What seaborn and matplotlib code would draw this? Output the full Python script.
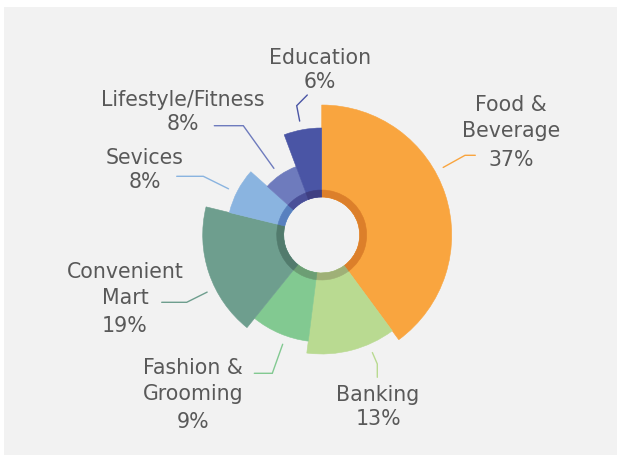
import numpy as np
import matplotlib
matplotlib.use("Agg")
import matplotlib.pyplot as plt
from matplotlib.patches import Wedge
import seaborn as sns

# slices go clockwise from 12 o'clock
categories = ["Food &\nBeverage", "Banking", "Fashion &\nGrooming", "Convenient\nMart",
              "Sevices", "Lifestyle/Fitness", "Education"]
pct_labels = [37, 13, 9, 19, 8, 8, 6]                      # printed percentages
angle_share = [39.9, 12.1, 8.8, 18.0, 7.8, 7.7, 5.7]       # angular share
slice_length = [130, 119, 107, 119, 95, 73, 107]           # outer radius of each slice
fill_colors = ["#f9a53f", "#b9da91", "#82c991", "#6e9e8e", "#8ab4e0", "#6e7bbd", "#4a55a5"]
ring_colors = ["#dc7f2a", "#9fb077", "#6c9e74", "#527b6d", "#5880bf", "#4a4f98", "#3f3f82"]

# label layout, image pixels: (text x centre, first line y), leader elbow, leader end
label_pos = [(511, 105), (378, 395), (193, 368), (125, 272), (145, 158), (183, 100), (320, 58)]
leader_elbow = [(465, 156.3), (377.3, 365), (272.3, 374.3), (186.7, 303.3),
                (203.3, 177.3), (243.3, 126.7), (296.7, 106.7)]
leader_end = [(475.3, 156.3), (377.3, 378.3), (254.3, 374.3), (161.7, 303.3),
              (176.7, 177.3), (214.3, 126.7), (307.3, 96)]

sns.set_theme(style="white")
plt.rcParams['font.family'] = ['DejaVu Sans']

W, H = 617, 456
cx, cy = 321.7, 236.0
hole_r, ring_r = 38, 45
text_col = "#595959"
fs = 14.8


def px(x, y):
    # image pixel -> data coords (centre of the donut at 0,0, y up)
    return x - cx, cy - y


fig = plt.figure(figsize=(W / 100, H / 100), dpi=100, facecolor="white")
# grey chart area, leaving the thin white margin top and left
bg = fig.add_axes([4 / W, 0, 1 - 4 / W, (H - 8) / H])
bg.set_facecolor("#f2f2f2")
bg.set_xticks([])
bg.set_yticks([])
for s in bg.spines.values():
    s.set_visible(False)

ax = fig.add_axes([0, 0, 1, 1])
ax.set_xlim(-cx, W - cx)
ax.set_ylim(-(H - cy), cy)
ax.axis("off")
ax.patch.set_alpha(0)

shares = np.array(angle_share) / np.sum(angle_share) * 360
edges = np.concatenate([[0], np.cumsum(shares)])

for i in range(len(categories)):
    a0, a1 = edges[i], edges[i + 1]
    r = slice_length[i]
    ax.add_patch(Wedge((0, 0), r, 90 - a1, 90 - a0, width=r - hole_r,
                       facecolor=fill_colors[i], edgecolor=fill_colors[i], lw=0.4, zorder=2))
    ax.add_patch(Wedge((0, 0), ring_r, 90 - a1, 90 - a0, width=ring_r - hole_r,
                       facecolor=ring_colors[i], edgecolor=ring_colors[i], lw=0.4, zorder=3))

    # leader line: starts just outside the slice, heading toward the elbow
    ex, ey = px(*leader_elbow[i])
    ang = np.arctan2(ey, ex)
    sx, sy = (r + 9) * np.cos(ang), (r + 9) * np.sin(ang)
    qx, qy = px(*leader_end[i])
    ax.plot([sx, ex, qx], [sy, ey, qy], color=fill_colors[i], lw=1.0,
            solid_joinstyle="miter", zorder=4)

    # label text
    lines = categories[i].split("\n")
    x0, y0 = label_pos[i]
    for k, line in enumerate(lines):
        ax.text(*px(x0, y0 + k * 25.5), line, ha="center", va="center",
                fontsize=fs, color=text_col, zorder=5)
    py = y0 + (len(lines) - 1) * 25.5 + (24 if len(lines) == 1 else 29)
    ax.text(*px(x0, py), f"{pct_labels[i]}%", ha="center", va="center",
            fontsize=fs, color=text_col, zorder=5)

fig.savefig("out.png", dpi=100, facecolor=fig.get_facecolor())
